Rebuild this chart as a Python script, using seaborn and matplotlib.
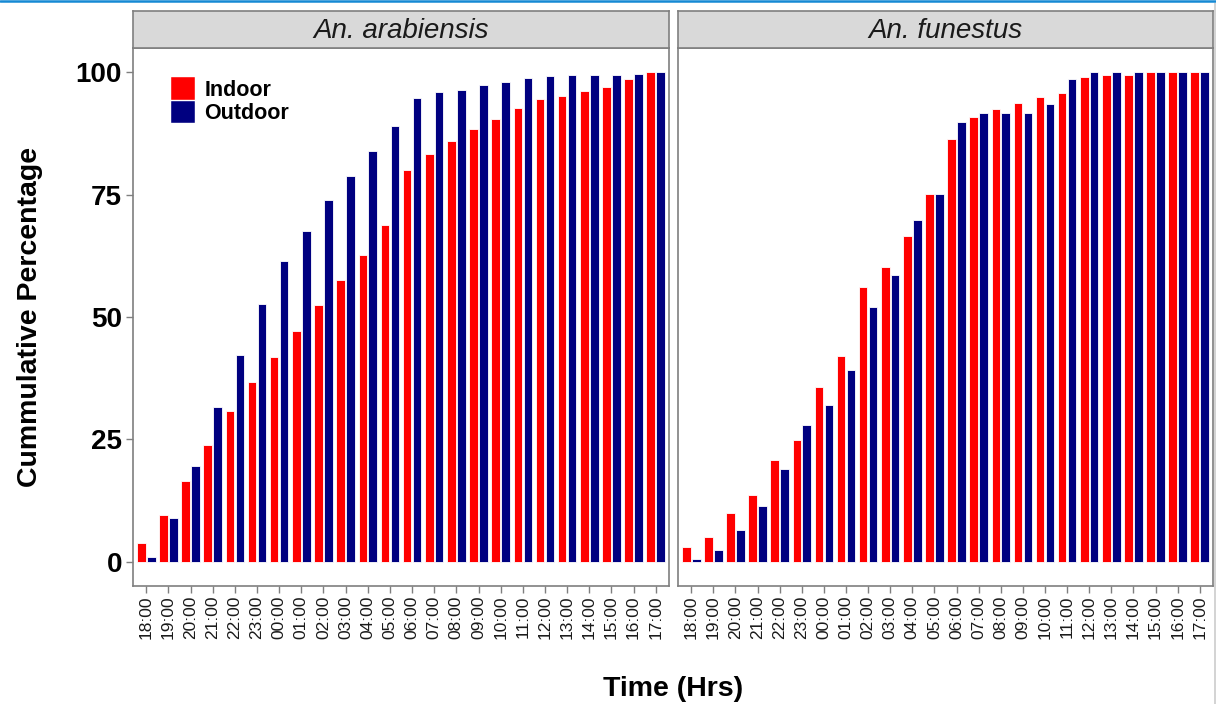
import matplotlib
matplotlib.use("Agg")
import matplotlib.pyplot as plt
from matplotlib.lines import Line2D
from matplotlib.patches import Rectangle
import seaborn as sns
import pandas as pd

# Hourly collection times
hours = ["18:00", "19:00", "20:00", "21:00", "22:00", "23:00", "00:00", "01:00",
         "02:00", "03:00", "04:00", "05:00", "06:00", "07:00", "08:00", "09:00",
         "10:00", "11:00", "12:00", "13:00", "14:00", "15:00", "16:00", "17:00"]

# Cumulative percentage of bites, An. arabiensis
arab_indoor = [3.8, 9.6, 16.5, 23.9, 30.7, 36.7, 41.9, 47.2, 52.5, 57.5, 62.6, 68.9,
               80.0, 83.4, 86.0, 88.5, 90.5, 92.8, 94.5, 95.2, 96.2, 97.0, 98.6, 100.0]
arab_outdoor = [0.9, 8.9, 19.5, 31.6, 42.2, 52.6, 61.5, 67.5, 74.0, 78.9, 84.0, 89.0,
                94.8, 96.0, 96.5, 97.5, 98.1, 98.8, 99.3, 99.5, 99.5, 99.5, 99.7, 100.0]

# Cumulative percentage of bites, An. funestus
fun_indoor = [2.9, 5.0, 9.9, 13.7, 20.7, 24.9, 35.7, 42.0, 56.1, 60.2, 66.5, 75.2,
              86.3, 90.9, 92.5, 93.8, 95.0, 95.8, 99.1, 99.5, 99.5, 100.0, 100.0, 100.0]
fun_outdoor = [0.6, 2.3, 6.5, 11.3, 18.9, 27.9, 32.0, 39.1, 52.1, 58.6, 69.8, 75.2,
               89.9, 91.7, 91.7, 91.7, 93.5, 98.7, 100.0, 100.0, 100.0, 100.0, 100.0, 100.0]

species = ["An. arabiensis", "An. funestus"]
locations = ["Indoor", "Outdoor"]
colors = {"Indoor": "#FF0000", "Outdoor": "#000080"}

series = {
    ("An. arabiensis", "Indoor"): arab_indoor,
    ("An. arabiensis", "Outdoor"): arab_outdoor,
    ("An. funestus", "Indoor"): fun_indoor,
    ("An. funestus", "Outdoor"): fun_outdoor,
}
rows = []
for (sp, loc), vals in series.items():
    for h, v in zip(hours, vals):
        rows.append({"species": sp, "location": loc, "time": h, "pct": v})
df = pd.DataFrame(rows)

sns.set_theme(style="white")
plt.rcParams["font.family"] = ["Liberation Sans", "DejaVu Sans"]
plt.rcParams["text.color"] = "black"
plt.rcParams["axes.labelcolor"] = "black"

W, H = 1216, 704
fig = plt.figure(figsize=(W / 100, H / 100), dpi=100)

panel_px = [(133, 536), (678, 535)]
top_px, bot_px, strip_h = 48, 586, 37
border = "#7f7f7f"

axes = []
for i, (sp, (x0, w)) in enumerate(zip(species, panel_px)):
    ax = fig.add_axes([x0 / W, 1 - bot_px / H, w / W, (bot_px - top_px) / H])
    axes.append(ax)
    sub = df[df["species"] == sp]
    sns.barplot(data=sub, x="time", y="pct", hue="location", order=hours,
                hue_order=locations, palette=colors, saturation=1, width=0.9,
                gap=0.14, edgecolor="white", linewidth=0.6, errorbar=None, ax=ax,
                legend=(i == 0))
    ax.set_xlim(-0.6, len(hours) - 0.4)
    ax.set_ylim(-5, 105)
    ax.set_xlabel("")
    ax.set_ylabel("")
    ax.set_yticks([0, 25, 50, 75, 100])
    for s in ax.spines.values():
        s.set_color(border)
        s.set_linewidth(1.2)
    ax.tick_params(axis="x", direction="out", length=5, width=1, color=border,
                   labelsize=12.5, labelcolor="#1a1a1a", labelrotation=90, pad=2,
                   bottom=True)
    for lab in ax.get_xticklabels():
        lab.set_verticalalignment("top")
    if i == 0:
        ax.tick_params(axis="y", direction="out", length=5, width=1, color=border,
                       labelsize=20, labelcolor="black", pad=3, left=True)
        for lab in ax.get_yticklabels():
            lab.set_fontweight("bold")
        handles, labels = ax.get_legend_handles_labels()
        for hnd in handles:
            hnd.set_linewidth(0.3)
        ax.get_legend().remove()
        ax.legend(handles, labels, loc="upper left", bbox_to_anchor=(0.071, 0.946),
                  frameon=False, borderpad=0, borderaxespad=0, handlelength=1.1,
                  handleheight=1.25, handletextpad=0.45, labelspacing=0.0,
                  prop={"weight": "bold", "size": 15.5})
    else:
        ax.tick_params(axis="y", left=False, labelleft=False)

    # facet strip
    sax = fig.add_axes([x0 / W, 1 - top_px / H, w / W, strip_h / H])
    sax.set_facecolor("#D9D9D9")
    sax.set_xticks([])
    sax.set_yticks([])
    for s in sax.spines.values():
        s.set_color(border)
        s.set_linewidth(1.2)
    sax.text(0.5, 0.47, sp, ha="center", va="center", fontsize=20,
             fontstyle="italic", color="#1a1a1a", transform=sax.transAxes)

fig.text(30 / W, 1 - 317 / H, "Cummulative Percentage", rotation=90,
         ha="center", va="center", fontsize=20.5, fontweight="bold")
fig.text(673 / W, 1 - 689 / H, "Time (Hrs)", ha="center", va="center",
         fontsize=20.5, fontweight="bold")

# page trim: blue rule on top, grey edge on the right
fig.add_artist(Line2D([0, 1], [1 - 1 / H, 1 - 1 / H], color="#1589d4", lw=1.8,
                      transform=fig.transFigure))
fig.add_artist(Rectangle((1214 / W, 0), 2 / W, 1 - 3 / H, color="#d4d4d4",
                         transform=fig.transFigure, lw=0))

fig.savefig("out.png", dpi=100)
